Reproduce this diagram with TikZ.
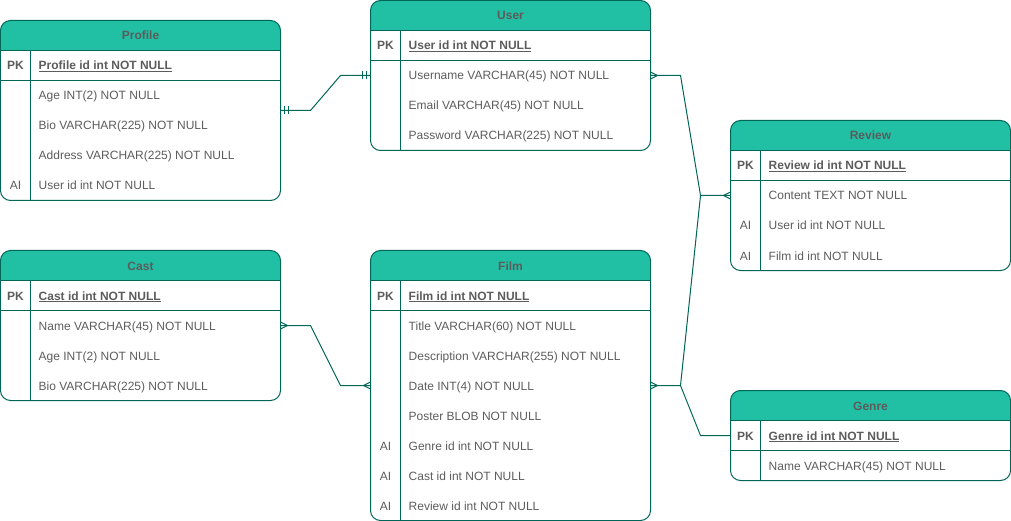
\documentclass[tikz,border=0pt]{standalone}
\usepackage{fontspec}
\setmainfont{Liberation Sans}
\usetikzlibrary{calc}
\definecolor{hdrfill}{HTML}{21C0A5}
\definecolor{strk}{HTML}{006658}
\definecolor{txt}{HTML}{5C5C5C}
\tikzset{
  tbl/.style={draw=strk, line width=1pt, rounded corners=10pt, inner sep=0pt, outer sep=0pt},
  sep/.style={draw=strk, line width=1pt},
  conn/.style={draw=strk, line width=1pt},
  hdrtext/.style={font=\fontsize{12}{14}\selectfont\bfseries, text=txt, inner sep=0pt, text height=9pt, text depth=0pt},
  rowtext/.style={font=\fontsize{12}{14}\selectfont, text=txt, anchor=west, inner sep=0pt, text height=9pt, text depth=0pt},
  keytext/.style={font=\fontsize{12}{14}\selectfont, text=txt, inner sep=0pt, text height=9pt, text depth=0pt},
  many/.pic={\draw[conn] (0,-3.5) -- (7,0) -- (0,3.5);},
  one/.pic={\draw[conn] (4,-4) -- (4,4) (8,-4) -- (8,4);}
}
\newcommand\ertable[6]{%
  \begin{scope}
    \clip (#2,#3) rectangle ++(#4,30);
    \fill[hdrfill, rounded corners=10pt] (#2,#3) rectangle ++(#4,45);
  \end{scope}
  \node[tbl, minimum width=#4pt, minimum height=#5pt, anchor=north west] (#1) at (#2,#3) {};
  \node[hdrtext] (#1-title) at (#2+#4/2,#3+15) {#6};
  \draw[sep] (#2,#3+30) -- ++(#4,0);
  \draw[sep] (#2,#3+60) -- ++(#4,0);
  \draw[sep] (#2+30,#3+30) -- (#2+30,#3+#5);
}
\newcommand\erow[5]{%
  \node[keytext] (#1-key) at (#2+15,#3+15) {#4};
  \node[rowtext] (#1) at (#2+38,#3+15) {#5};
}
\newcommand\pkrow[4]{%
  \node[keytext] (#1-key) at (#2+15,#3+15) {\bfseries PK};
  \node[rowtext] (#1) at (#2+38,#3+15) {\bfseries\underline{#4}};
}
\begin{document}
\begin{tikzpicture}[x=1pt,y=-1pt]
\useasboundingbox (-0.5,-0.5) rectangle (1010.5,520.5);
% Profile
\ertable{profile}{0}{20}{280}{180}{Profile}
\pkrow{profile-pk}{0}{50}{Profile id int NOT NULL}
\erow{profile-age}{0}{80}{}{Age INT(2) NOT NULL}
\erow{profile-bio}{0}{110}{}{Bio VARCHAR(225) NOT NULL}
\erow{profile-addr}{0}{140}{}{Address VARCHAR(225) NOT NULL}
\erow{profile-user}{0}{170}{AI}{User id int NOT NULL}
% User
\ertable{user}{370}{0}{280}{150}{User}
\pkrow{user-pk}{370}{30}{User id int NOT NULL}
\erow{user-name}{370}{60}{}{Username VARCHAR(45) NOT NULL}
\erow{user-email}{370}{90}{}{Email VARCHAR(45) NOT NULL}
\erow{user-pass}{370}{120}{}{Password VARCHAR(225) NOT NULL}
% Review
\ertable{review}{730}{120}{280}{150}{Review}
\pkrow{review-pk}{730}{150}{Review id int NOT NULL}
\erow{review-content}{730}{180}{}{Content TEXT NOT NULL}
\erow{review-user}{730}{210}{AI}{User id int NOT NULL}
\erow{review-film}{730}{240}{AI}{Film id int NOT NULL}
% Cast
\ertable{cast}{0}{250}{280}{150}{Cast}
\pkrow{cast-pk}{0}{280}{Cast id int NOT NULL}
\erow{cast-name}{0}{310}{}{Name VARCHAR(45) NOT NULL}
\erow{cast-age}{0}{340}{}{Age INT(2) NOT NULL}
\erow{cast-bio}{0}{370}{}{Bio VARCHAR(225) NOT NULL}
% Film
\ertable{film}{370}{250}{280}{270}{Film}
\pkrow{film-pk}{370}{280}{Film id int NOT NULL}
\erow{film-title}{370}{310}{}{Title VARCHAR(60) NOT NULL}
\erow{film-desc}{370}{340}{}{Description VARCHAR(255) NOT NULL}
\erow{film-date}{370}{370}{}{Date INT(4) NOT NULL}
\erow{film-poster}{370}{400}{}{Poster BLOB NOT NULL}
\erow{film-genre}{370}{430}{AI}{Genre id int NOT NULL}
\erow{film-cast}{370}{460}{AI}{Cast id int NOT NULL}
\erow{film-review}{370}{490}{AI}{Review id int NOT NULL}
% Genre
\ertable{genre}{730}{390}{280}{90}{Genre}
\pkrow{genre-pk}{730}{420}{Genre id int NOT NULL}
\erow{genre-name}{730}{450}{}{Name VARCHAR(45) NOT NULL}
% connection points
\coordinate (pR) at (profile.east |- 0,110);
\coordinate (uL) at (user.west |- 0,75);
\coordinate (uR) at (user.east |- 0,75);
\coordinate (rL) at (review.west |- 0,195);
\coordinate (cR) at (cast.east |- 0,325);
\coordinate (fL) at (film.west |- 0,385);
\coordinate (fR) at (film.east |- 0,385);
\coordinate (gL) at (genre.west |- 0,435);
% connectors
\draw[conn] (pR) -- ++(30,0) -- ($(uL)+(-30,0)$) -- (uL);
\pic at (pR) {one};
\pic[rotate=180] at (uL) {one};
\draw[conn] (uR) -- ++(30,0) -- ($(rL)+(-30,0)$) -- (rL);
\pic at (uR) {many};
\pic[rotate=180] at (rL) {many};
\draw[conn] (fR) -- ++(30,0) -- ($(rL)+(-30,0)$);
\pic at (fR) {many};
\draw[conn] ($(fR)+(30,0)$) -- ($(gL)+(-30,0)$) -- (gL);
\draw[conn] (cR) -- ++(30,0) -- ($(fL)+(-30,0)$) -- (fL);
\pic at (cR) {many};
\pic[rotate=180] at (fL) {many};
\end{tikzpicture}
\end{document}
